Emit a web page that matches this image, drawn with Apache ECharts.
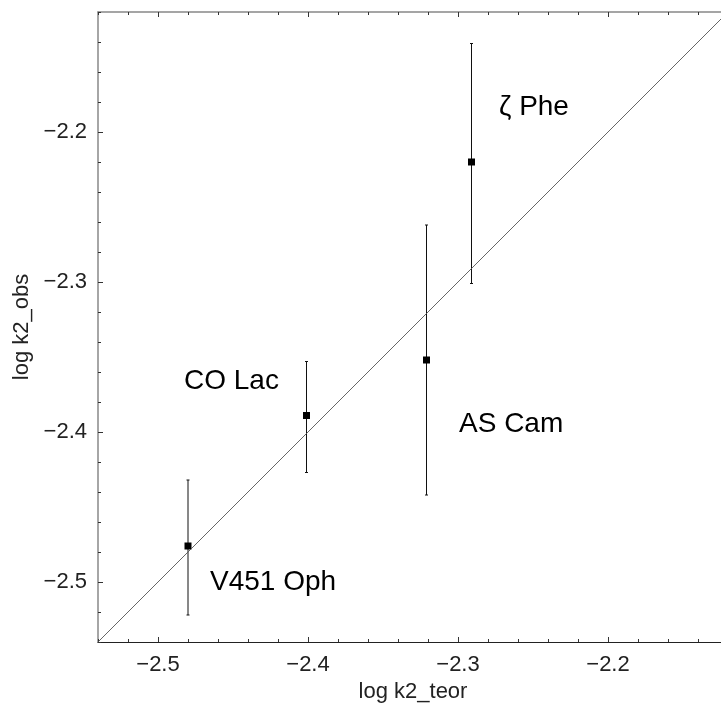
<!DOCTYPE html>
<html>
<head>
<meta charset="utf-8">
<script src="https://cdn.jsdelivr.net/npm/echarts@6/dist/echarts.min.js"></script>
<style>html,body{margin:0;padding:0;background:#fff;}#c{width:721px;height:709px;}</style>
</head>
<body>
<div id="c"></div>
<script>
// Data
const stars = ["V451 Oph", "CO Lac", "AS Cam", "ζ Phe"];
const logK2Teor = [-2.480, -2.401, -2.321, -2.291];
const logK2Obs = [-2.476, -2.389, -2.352, -2.220];
const errLow = [-2.522, -2.427, -2.442, -2.301];
const errHigh = [-2.432, -2.353, -2.262, -2.141];
const diagonal = [[-2.54, -2.54], [-2.12, -2.12]];
const minorTickValues = [-2.54, -2.52, -2.48, -2.46, -2.44, -2.42, -2.38, -2.36, -2.34, -2.32, -2.28, -2.26, -2.24, -2.22, -2.18, -2.16, -2.14, -2.12];
const labelValues = [-2.5, -2.4, -2.3, -2.2];

const FONT = "'Liberation Sans', Arial, sans-serif";
const fmt = v => (v < 0 ? '\u2212' : '') + Math.abs(v).toFixed(1);
const RANGE = {min: -2.54, max: -2.12};

const chart = echarts.init(document.getElementById('c'), null, {renderer: 'canvas'});

function majorAxis(lineColor, lineWidth, showLabels) {
  return Object.assign({
    type: 'value', gridIndex: 0,
    axisLine: {show: true, onZero: false, lineStyle: {color: lineColor, width: lineWidth}},
    axisTick: {show: true, inside: true, length: 5, customValues: labelValues, lineStyle: {color: '#333', width: 1}},
    splitLine: {show: false},
    axisLabel: showLabels ? {show: true, customValues: labelValues, formatter: fmt, fontFamily: FONT, fontSize: 22, color: '#222'} : {show: false}
  }, RANGE);
}
function minorAxis(position) {
  return Object.assign({
    type: 'value', gridIndex: 1, position: position,
    axisLine: {show: false, onZero: false},
    axisTick: {show: true, inside: true, length: 3, customValues: minorTickValues, lineStyle: {color: '#333', width: 1}},
    splitLine: {show: false},
    axisLabel: {show: false}
  }, RANGE);
}

const xBottom = Object.assign(majorAxis('#222', 1.2, true), {
  position: 'bottom', name: 'log k2_teor', nameLocation: 'middle', nameGap: 38,
  nameTextStyle: {fontFamily: FONT, fontSize: 22, color: '#222'}
});
xBottom.axisLabel.margin = 12;
const xTop = Object.assign(majorAxis('#888', 1.5, false), {position: 'top'});
const yLeft = Object.assign(majorAxis('#888', 1.5, true), {
  position: 'left', name: 'log k2_obs', nameLocation: 'middle', nameGap: 61, nameRotate: 90,
  nameTextStyle: {fontFamily: FONT, fontSize: 22, color: '#222'}
});
yLeft.axisLabel.margin = 11;

const points = logK2Teor.map((x, i) => [x, logK2Obs[i], errLow[i], errHigh[i]]);

const gridBox = {left: 98, top: 12, width: 630, height: 630, containLabel: false, outerBoundsMode: 'none'};

chart.setOption({
  animation: false,
  backgroundColor: '#fff',
  grid: [Object.assign({}, gridBox), Object.assign({}, gridBox)],
  xAxis: [xBottom, xTop, minorAxis('bottom'), minorAxis('top')],
  yAxis: [yLeft, minorAxis('left')],
  series: [
    {
      type: 'line', data: diagonal, xAxisIndex: 0, yAxisIndex: 0, symbol: 'none',
      lineStyle: {color: '#555', width: 0.9}, silent: true
    },
    {
      type: 'custom', xAxisIndex: 0, yAxisIndex: 0, data: points,
      renderItem: function (params, api) {
        const x = api.value(0);
        const top = api.coord([x, api.value(3)]);
        const bot = api.coord([x, api.value(2)]);
        const mid = api.coord([x, api.value(1)]);
        const cap = 1.5;
        const st = {stroke: '#111', lineWidth: 1};
        return {
          type: 'group',
          children: [
            {type: 'line', shape: {x1: top[0], y1: top[1], x2: bot[0], y2: bot[1]}, style: st},
            {type: 'line', shape: {x1: top[0] - cap, y1: top[1], x2: top[0] + cap, y2: top[1]}, style: st},
            {type: 'line', shape: {x1: bot[0] - cap, y1: bot[1], x2: bot[0] + cap, y2: bot[1]}, style: st},
            {type: 'rect', shape: {x: mid[0] - 3.5, y: mid[1] - 3.5, width: 7, height: 7}, style: {fill: '#000'}}
          ]
        };
      }
    }
  ],
  graphic: [
    {type: 'text', x: 499, y: 107, style: {text: stars[3], fontFamily: FONT, fontSize: 28, fill: '#000', align: 'left', verticalAlign: 'middle'}},
    {type: 'text', x: 184, y: 381, style: {text: stars[1], fontFamily: FONT, fontSize: 28, fill: '#000', align: 'left', verticalAlign: 'middle'}},
    {type: 'text', x: 459, y: 424, style: {text: stars[2], fontFamily: FONT, fontSize: 28, fill: '#000', align: 'left', verticalAlign: 'middle'}},
    {type: 'text', x: 210, y: 582, style: {text: stars[0], fontFamily: FONT, fontSize: 28, fill: '#000', align: 'left', verticalAlign: 'middle'}}
  ]
});
</script>
</body>
</html>
